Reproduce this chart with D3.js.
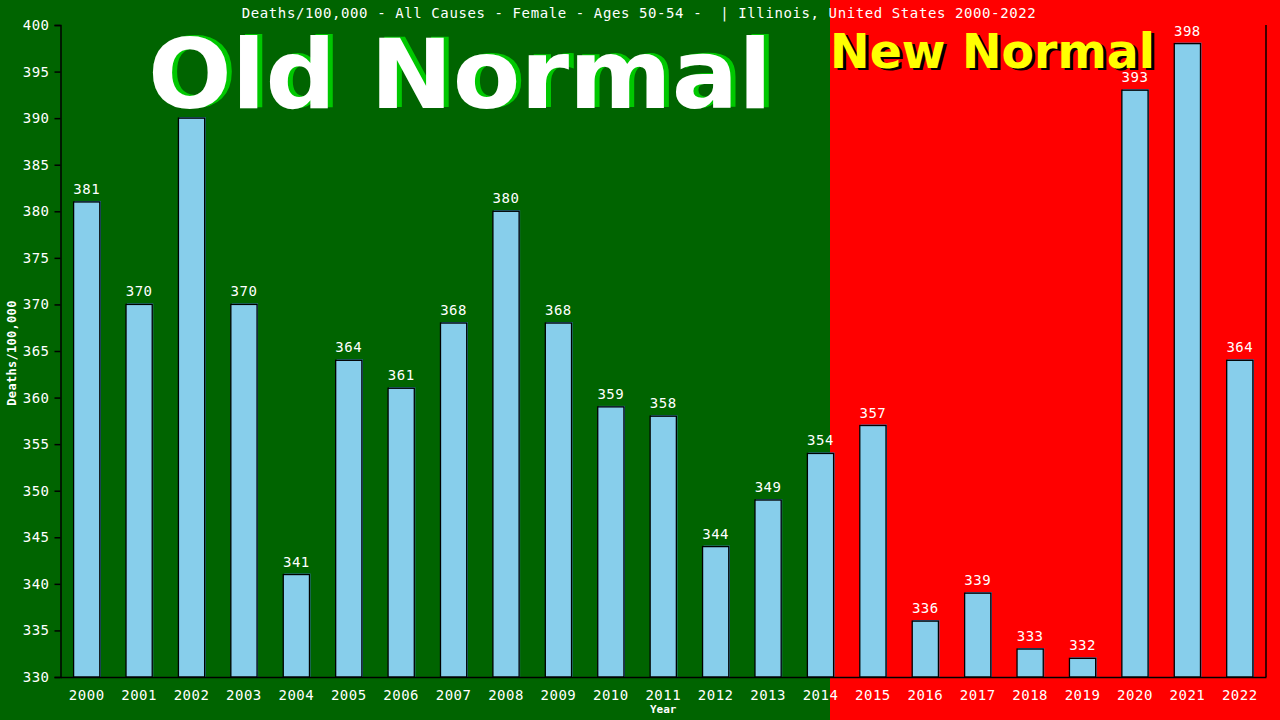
<!DOCTYPE html>
<html>
<head>
<meta charset="utf-8">
<script src="https://cdn.jsdelivr.net/npm/d3@7"></script>
<style>
html,body{margin:0;padding:0;background:#006400;}
svg{display:block;}
</style>
</head>
<body>
<svg id="chart" width="1280" height="720"></svg>
<script>
const years = ["2000","2001","2002","2003","2004","2005","2006","2007","2008","2009","2010","2011","2012","2013","2014","2015","2016","2017","2018","2019","2020","2021","2022"];
const deaths = [381,370,390,370,341,364,361,368,380,368,359,358,344,349,354,357,336,339,333,332,393,398,364];
const yTicks = [330,335,340,345,350,355,360,365,370,375,380,385,390,395,400];
const titleText = "Deaths/100,000 - All Causes - Female - Ages 50-54 -  | Illinois, United States 2000-2022";
const yLabel = "Deaths/100,000";
const xLabel = "Year";
const oldLabel = "Old Normal";
const newLabel = "New Normal";
const lastOldYear = "2014";

const W = 1280, H = 720;
const m = {left: 60.5, right: 1266, top: 25, bottom: 677};
const svg = d3.select("#chart");

const x = d3.scaleBand().domain(years).range([m.left, m.right]).paddingInner(0.5).paddingOuter(0.25);
const y = d3.scaleLinear().domain([330, 400]).range([m.bottom, m.top]);

// backgrounds
const splitX = Math.round(x(lastOldYear) + x.bandwidth() - 3.5);
svg.append("rect").attr("x", 0).attr("y", 0).attr("width", W).attr("height", H).attr("fill", "#006400");
svg.append("rect").attr("x", splitX).attr("y", 0).attr("width", W - splitX).attr("height", H).attr("fill", "#ff0000");

// title
svg.append("text").attr("x", 639).attr("y", 18).attr("text-anchor", "middle")
  .attr("font-family", "DejaVu Sans Mono").attr("font-size", 14).attr("letter-spacing", "0.6px")
  .style("white-space", "pre").attr("xml:space", "preserve")
  .attr("fill", "#ffffff").text(titleText);

// bars
const bars = svg.append("g");
bars.selectAll("rect.sh").data(years).join("rect").attr("class", "sh")
  .attr("x", d => x(d) + 1).attr("y", (d, i) => y(deaths[i]) - 1)
  .attr("width", x.bandwidth()).attr("height", (d, i) => m.bottom - y(deaths[i]) + 1)
  .attr("fill", "#3f86c0");
bars.selectAll("rect.bar").data(years).join("rect").attr("class", "bar")
  .attr("x", d => x(d)).attr("y", (d, i) => y(deaths[i]))
  .attr("width", x.bandwidth()).attr("height", (d, i) => m.bottom - y(deaths[i]))
  .attr("fill", "#87ceeb").attr("stroke", "#000").attr("stroke-width", 1.3);

// value labels
const valueLabels = svg.append("g").selectAll("text").data(years).join("text")
  .attr("x", d => x(d) + x.bandwidth() / 2).attr("y", (d, i) => y(deaths[i]) - 8)
  .attr("text-anchor", "middle").attr("font-family", "DejaVu Sans Mono").attr("font-size", 14)
  .attr("letter-spacing", "0.5px").attr("fill", "#fff").text((d, i) => deaths[i]);

// big labels (drawn over the value labels, as in the original)
const old = svg.append("g");
old.append("text").attr("x", 153).attr("y", 107).text(oldLabel)
  .attr("font-family", "DejaVu Sans").attr("font-weight", "bold").attr("font-size", 97)
  .attr("textLength", 624).attr("lengthAdjust", "spacingAndGlyphs").attr("fill", "#00c800");
const oldMain = old.append("text").attr("x", 148).attr("y", 108).text(oldLabel)
  .attr("font-family", "DejaVu Sans").attr("font-weight", "bold").attr("font-size", 97)
  .attr("textLength", 624).attr("lengthAdjust", "spacingAndGlyphs").attr("fill", "#ffffff");

const nw = svg.append("g");
nw.append("text").attr("x", splitX + 3).attr("y", 70).text(newLabel)
  .attr("font-family", "DejaVu Sans").attr("font-weight", "bold").attr("font-size", 48)
  .attr("textLength", 325).attr("lengthAdjust", "spacingAndGlyphs").attr("fill", "#000000");
nw.append("text").attr("x", splitX).attr("y", 68).text(newLabel)
  .attr("font-family", "DejaVu Sans").attr("font-weight", "bold").attr("font-size", 48)
  .attr("textLength", 325).attr("lengthAdjust", "spacingAndGlyphs").attr("fill", "#ffff00");

// value labels that sit under the big banner text are covered in the original
const ob = old.node().getBBox();
valueLabels.each(function () {
  const b = this.getBBox();
  const hit = b.x < ob.x + ob.width && b.x + b.width > ob.x && b.y < ob.y + ob.height - 4 && b.y + b.height > ob.y;
  if (hit) d3.select(this).attr("visibility", "hidden");
});

// y axis
const yAxis = svg.append("g").attr("transform", `translate(${m.left},0)`)
  .call(d3.axisLeft(y).tickValues(yTicks).tickSize(6).tickPadding(5));
yAxis.select(".domain").attr("stroke", "#000").attr("stroke-width", 1.5);
yAxis.selectAll(".tick line").attr("stroke", "#000").attr("stroke-width", 1.5);
yAxis.selectAll(".tick text").attr("fill", "#fff").attr("font-family", "DejaVu Sans Mono")
  .attr("font-size", 14).attr("letter-spacing", "0.5px");

// x axis
const xAxis = svg.append("g").attr("transform", `translate(0,${m.bottom})`)
  .call(d3.axisBottom(x).tickSize(0).tickPadding(13));
xAxis.select(".domain").attr("stroke", "#000").attr("stroke-width", 1.5);
xAxis.selectAll(".tick text").attr("fill", "#fff").attr("font-family", "DejaVu Sans Mono")
  .attr("font-size", 14).attr("letter-spacing", "0.5px");

// right border line
svg.append("line").attr("x1", m.right).attr("x2", m.right).attr("y1", m.top).attr("y2", m.bottom)
  .attr("stroke", "#000").attr("stroke-width", 1.5);

// axis titles
svg.append("text").attr("transform", `translate(16,${(m.top + m.bottom) / 2 + 2}) rotate(-90)`)
  .attr("text-anchor", "middle").attr("font-family", "DejaVu Sans Mono").attr("font-weight", "bold")
  .attr("font-size", 12).attr("letter-spacing", "0.3px").attr("fill", "#fff").text(yLabel);
svg.append("text").attr("x", (m.left + m.right) / 2).attr("y", 713)
  .attr("text-anchor", "middle").attr("font-family", "DejaVu Sans Mono").attr("font-weight", "bold")
  .attr("font-size", 11).attr("fill", "#fff").text(xLabel);
</script>
</body>
</html>
